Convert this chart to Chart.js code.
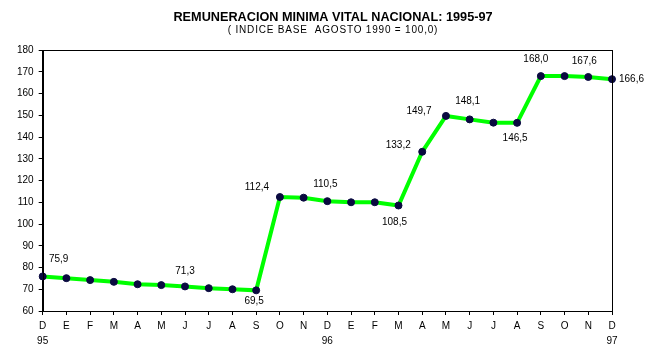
<!DOCTYPE html>
<html><head><meta charset="utf-8">
<script src="https://cdn.jsdelivr.net/npm/chart.js@4/dist/chart.umd.min.js"></script>
<style>html,body{margin:0;padding:0;background:#fff}#wrap{width:659px;height:357px}</style>
</head><body><div id="wrap"><canvas id="c" width="659" height="357"></canvas></div>
<script>
const titleText = 'REMUNERACION MINIMA VITAL NACIONAL: 1995-97';
const subtitleText = '( INDICE BASE  AGOSTO 1990 = 100,0)';
const months = ["D","E","F","M","A","M","J","J","A","S","O","N","D","E","F","M","A","M","J","J","A","S","O","N","D"];
const years = {0:"95",12:"96",24:"97"};
const values = [75.9,75.1,74.2,73.4,72.3,71.9,71.3,70.5,70.0,69.5,112.4,112.1,110.5,110.0,110.0,108.5,133.2,149.7,148.1,146.6,146.5,168.0,168.0,167.6,166.6];
const shownLabels = [0,6,9,10,12,15,16,17,18,20,21,23,24];
const yTicks = {min:60,max:180,step:10};
// label placement relative to the point (style, not data)
const labelOffsets = {0:[16,-17,'center'],6:[0,-15,'center'],9:[-2,11,'center'],10:[-23,-10,'center'],12:[-2,-17,'center'],15:[-4,17,'center'],16:[-24,-7,'center'],17:[-27,-5,'center'],18:[-2,-18,'center'],20:[-2,15,'center'],21:[-5,-17,'center'],23:[-4,-16,'center'],24:[7,0,'left']};

const xLabels = months.map((m,i)=> years[i] ? [m, years[i]] : m);
const FONT = "'Liberation Sans', Arial, sans-serif";

const titles = {id:'titles', afterDraw(chart){const ctx=chart.ctx;ctx.save();ctx.fillStyle='#000';ctx.textAlign='center';ctx.textBaseline='middle';
 ctx.font='bold 12.7px '+FONT;ctx.fillText(titleText,333,17);
 ctx.font='10px '+FONT;if('letterSpacing' in ctx) ctx.letterSpacing='0.8px';ctx.fillText(subtitleText,333,30);ctx.restore();}};
const frame = {id:'frame', afterDraw(chart){const a=chart.chartArea,ctx=chart.ctx;ctx.save();ctx.strokeStyle='#000';ctx.lineWidth=1;ctx.strokeRect(Math.round(a.left)+0.5,Math.round(a.top)+0.5,Math.round(a.right-a.left),Math.round(a.bottom-a.top));ctx.restore();}};
const dataLabels = {id:'dl', afterDatasetsDraw(chart){const ctx=chart.ctx;const meta=chart.getDatasetMeta(0);ctx.save();ctx.font='10px '+FONT;ctx.fillStyle='#000';ctx.textBaseline='middle';
 shownLabels.forEach(i=>{const p=meta.data[i];const o=labelOffsets[i];ctx.textAlign=o[2];ctx.fillText(values[i].toFixed(1).replace('.',','),p.x+o[0],p.y+o[1]);});ctx.restore();}};

new Chart(document.getElementById('c'),{
 type:'line',
 data:{labels:xLabels,datasets:[{data:values,borderColor:'#00ff00',borderWidth:4,tension:0,pointRadius:3.5,pointHoverRadius:3.5,pointBackgroundColor:'#0a0a40',pointBorderColor:'#0a0a40',pointBorderWidth:1}]},
 options:{responsive:false,animation:false,
  layout:{padding:{left:12,right:47,top:50,bottom:4}},
  plugins:{legend:{display:false},tooltip:{enabled:false},title:{display:false},subtitle:{display:false}},
  scales:{
   x:{offset:false,grid:{drawOnChartArea:false,drawTicks:true,tickLength:4,color:'#000'},border:{display:true,color:'#000'},
      ticks:{autoSkip:false,maxRotation:0,color:'#000',font:{family:FONT,size:10,lineHeight:1.5},padding:4}},
   y:{min:yTicks.min,max:yTicks.max,grid:{drawOnChartArea:false,drawTicks:true,tickLength:4,color:'#000'},border:{display:true,color:'#000'},
      ticks:{stepSize:yTicks.step,color:'#000',font:{family:FONT,size:10},padding:5}}
  }},
 plugins:[frame,dataLabels,titles]
});
</script></body></html>
